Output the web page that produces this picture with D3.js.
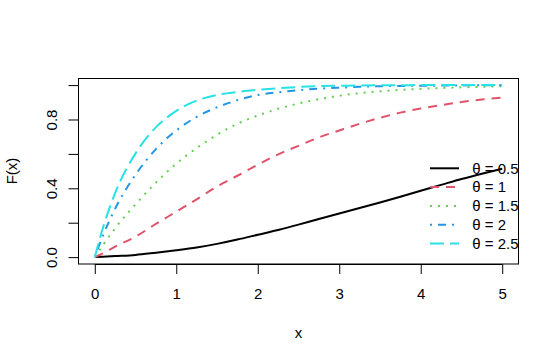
<!DOCTYPE html>
<html>
<head>
<meta charset="utf-8">
<script src="https://cdn.jsdelivr.net/npm/d3@7"></script>
<style>
  html, body { margin: 0; padding: 0; background: #fff; }
  svg { display: block; }
  text { font-family: Arial, "Liberation Sans", sans-serif; fill: #000; }
</style>
</head>
<body>
<svg id="chart" width="559" height="362"></svg>
<script>
// ---- data ----
const xValues = [0, 0.1, 0.25, 0.5, 0.75, 1, 1.25, 1.5, 1.75, 2, 2.25, 2.5, 2.75, 3, 3.25, 3.5, 3.75, 4, 4.25, 4.5, 4.75, 5];
const theta05 = [0, 0.002, 0.006, 0.013, 0.026, 0.04, 0.056, 0.077, 0.102, 0.13, 0.158, 0.189, 0.222, 0.254, 0.285, 0.317, 0.351, 0.386, 0.42, 0.454, 0.485, 0.514];
const theta1  = [0, 0.022, 0.061, 0.119, 0.193, 0.264, 0.336, 0.41, 0.473, 0.537, 0.597, 0.647, 0.696, 0.736, 0.775, 0.81, 0.84, 0.864, 0.883, 0.902, 0.916, 0.928];
const theta15 = [0, 0.07, 0.168, 0.307, 0.433, 0.543, 0.634, 0.711, 0.775, 0.823, 0.862, 0.893, 0.918, 0.938, 0.953, 0.964, 0.972, 0.978, 0.983, 0.987, 0.99, 0.993];
const theta2  = [0, 0.125, 0.282, 0.479, 0.628, 0.736, 0.815, 0.871, 0.912, 0.942, 0.958, 0.97, 0.979, 0.985, 0.99, 0.993, 0.995, 0.996, 0.997, 0.998, 0.999, 0.999];
const theta25 = [0, 0.17, 0.373, 0.603, 0.754, 0.85, 0.91, 0.943, 0.96, 0.972, 0.982, 0.989, 0.994, 0.996, 0.998, 0.999, 0.999, 1, 1, 1, 1, 1];
const legendLabels = ["θ = 0.5", "θ = 1", "θ = 1.5", "θ = 2", "θ = 2.5"];
const xTicks = [0, 1, 2, 3, 4, 5];
const yTicks = [0, 0.2, 0.4, 0.6, 0.8, 1.0];
const yTickLabels = ["0.0", "", "0.4", "", "0.8", ""];
const xLabel = "x";
const yLabel = "F(x)";

// ---- styles ----
const colors = ["#000000", "#DF536B", "#61D04F", "#2297E6", "#28E2E5"];
const dashes = [null, "9,7", "2,6", "2,6,8,6", "14,6"];
const seriesList = [theta05, theta1, theta15, theta2, theta25];

const svg = d3.select("#chart");
const x = d3.scaleLinear().domain([-0.2, 5.2]).range([78.5, 518.5]);
const y = d3.scaleLinear().domain([-0.04, 1.04]).range([264, 78.2]);

const line = d3.line()
  .x((d, i) => x(xValues[i]))
  .y(d => y(d))
  .curve(d3.curveMonotoneX);

// curves
const gLines = svg.append("g");
seriesList.forEach((s, k) => {
  gLines.append("path")
    .datum(s)
    .attr("d", line)
    .attr("fill", "none")
    .attr("stroke", colors[k])
    .attr("stroke-width", 2)
    .attr("stroke-dasharray", dashes[k])
    .attr("stroke-linecap", "butt")
    .attr("stroke-linejoin", "round");
});

// x axis
const xAxis = svg.append("g")
  .attr("transform", "translate(0,264)")
  .call(d3.axisBottom(x).tickValues(xTicks).tickFormat(d3.format("d")).tickSize(10).tickPadding(14).tickSizeOuter(0));
xAxis.select(".domain").remove();
xAxis.append("line")
  .attr("x1", x(xTicks[0])).attr("x2", x(xTicks[xTicks.length - 1]))
  .attr("y1", 0.5).attr("y2", 0.5).attr("stroke", "#000");
xAxis.selectAll(".tick line").attr("stroke", "#000");
xAxis.selectAll(".tick text")
  .attr("font-size", 15)
  .attr("font-family", "Arial, 'Liberation Sans', sans-serif")
  .attr("fill", "#000");

// y axis
const yAxis = svg.append("g")
  .attr("transform", "translate(78.5,0)")
  .call(d3.axisLeft(y).tickValues(yTicks).tickFormat("").tickSize(10).tickSizeOuter(0));
yAxis.select(".domain").remove();
yAxis.append("line")
  .attr("x1", 0).attr("x2", 0)
  .attr("y1", y(yTicks[0])).attr("y2", y(yTicks[yTicks.length - 1]))
  .attr("stroke", "#000");
yAxis.selectAll(".tick line").attr("stroke", "#000");
yAxis.selectAll(".tick text").remove();
yAxis.selectAll(".tick").each(function(d, i) {
  d3.select(this).append("text")
    .attr("transform", "translate(-21.8,0) rotate(-90)")
    .attr("text-anchor", "middle")
    .attr("font-size", 15)
    .attr("font-family", "Arial, 'Liberation Sans', sans-serif")
    .attr("fill", "#000")
    .text(yTickLabels[i]);
});

// box
svg.append("rect")
  .attr("x", 78.5).attr("y", 78.5)
  .attr("width", 518.5 - 78.5).attr("height", 264 - 78.5)
  .attr("fill", "none").attr("stroke", "#000");

// axis titles
svg.append("text")
  .attr("x", (78.5 + 518.5) / 2).attr("y", 337.5)
  .attr("text-anchor", "middle")
  .attr("font-size", 15)
  .text(xLabel);
svg.append("text")
  .attr("transform", "translate(17,171) rotate(-90)")
  .attr("text-anchor", "middle")
  .attr("font-size", 15)
  .text(yLabel);

// legend
const legend = svg.append("g");
legendLabels.forEach((lab, k) => {
  const ly = 168.3 + k * 18.8;
  legend.append("line")
    .attr("x1", 430).attr("x2", 459)
    .attr("y1", ly).attr("y2", ly)
    .attr("stroke", colors[k])
    .attr("stroke-width", 2)
    .attr("stroke-dasharray", dashes[k]);
  legend.append("text")
    .attr("x", 472.3).attr("y", ly + 5.3)
    .attr("font-size", 15)
    .text(lab);
});
</script>
</body>
</html>
